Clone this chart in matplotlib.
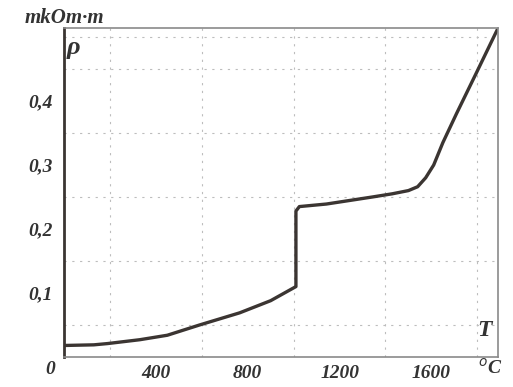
import matplotlib
matplotlib.use("Agg")
import matplotlib.pyplot as plt
import numpy as np

# data
T = [0, 130, 190, 330, 450, 590, 765, 900, 1010, 1010, 1025, 1143, 1343, 1430, 1500, 1540, 1575, 1610, 1650, 1709, 1796, 1885]
rho = [0.018, 0.019, 0.021, 0.027, 0.034, 0.050, 0.069, 0.088, 0.110, 0.228, 0.235, 0.239, 0.250, 0.255, 0.260, 0.266, 0.280, 0.300, 0.335, 0.380, 0.444, 0.510]
x_ticks = [400, 800, 1200, 1600]
x_labels = ["400", "800", "1200", "1600"]
y_ticks = [0.1, 0.2, 0.3, 0.4]
y_labels = ["0,1", "0,2", "0,3", "0,4"]

W, H = 513, 387
fig = plt.figure(figsize=(W / 100, H / 100), dpi=100)
ax = fig.add_axes([64 / W, 1 - 357 / H, (498 - 64) / W, (357 - 28) / H])
ax.set_xlim(0, 1890)
ax.set_ylim(0, 0.514)

ax.set_xticks(np.arange(200, 1890, 200), minor=True)
ax.set_yticks(np.arange(0.05, 0.51, 0.05), minor=True)
ax.grid(True, which="minor", color="#bdbdbd", linestyle=(0, (2, 5)), linewidth=0.8)
ax.set_axisbelow(True)

ax.plot(T, rho, color="#3b3532", linewidth=2.4, solid_joinstyle="round")

font = dict(family="Liberation Serif", style="italic", weight="bold", size=14, color="#333333")
ax.set_xticks(x_ticks)
ax.set_xticklabels(x_labels, fontdict=font)
ax.set_yticks(y_ticks)
ax.set_yticklabels(y_labels, fontdict=font)
ax.tick_params(axis="both", which="both", length=0)
ax.tick_params(axis="x", pad=6)
ax.tick_params(axis="y", pad=8)

for s in ["top", "bottom", "right"]:
    ax.spines[s].set_color("#8a8a8a")
    ax.spines[s].set_linewidth(1.2)
ax.spines["left"].set_color("#3b3532")
ax.spines["left"].set_linewidth(2.0)

fig.text(50 / W, 1 - 370 / H, "0", ha="center", va="center", **font)
fig.text(490 / W, 1 - 368 / H, "$^o$C", ha="center", va="center", **font)
fig.text(25 / W, 1 - 18 / H, "mkOm·m", ha="left", va="center", **dict(font, size=15))
ax.text(0.005, 0.975, "ρ", transform=ax.transAxes, ha="left", va="top", **dict(font, size=19))
ax.text(0.985, 0.05, "T", transform=ax.transAxes, ha="right", va="bottom", **dict(font, size=17))

fig.savefig("out.png", dpi=100)
